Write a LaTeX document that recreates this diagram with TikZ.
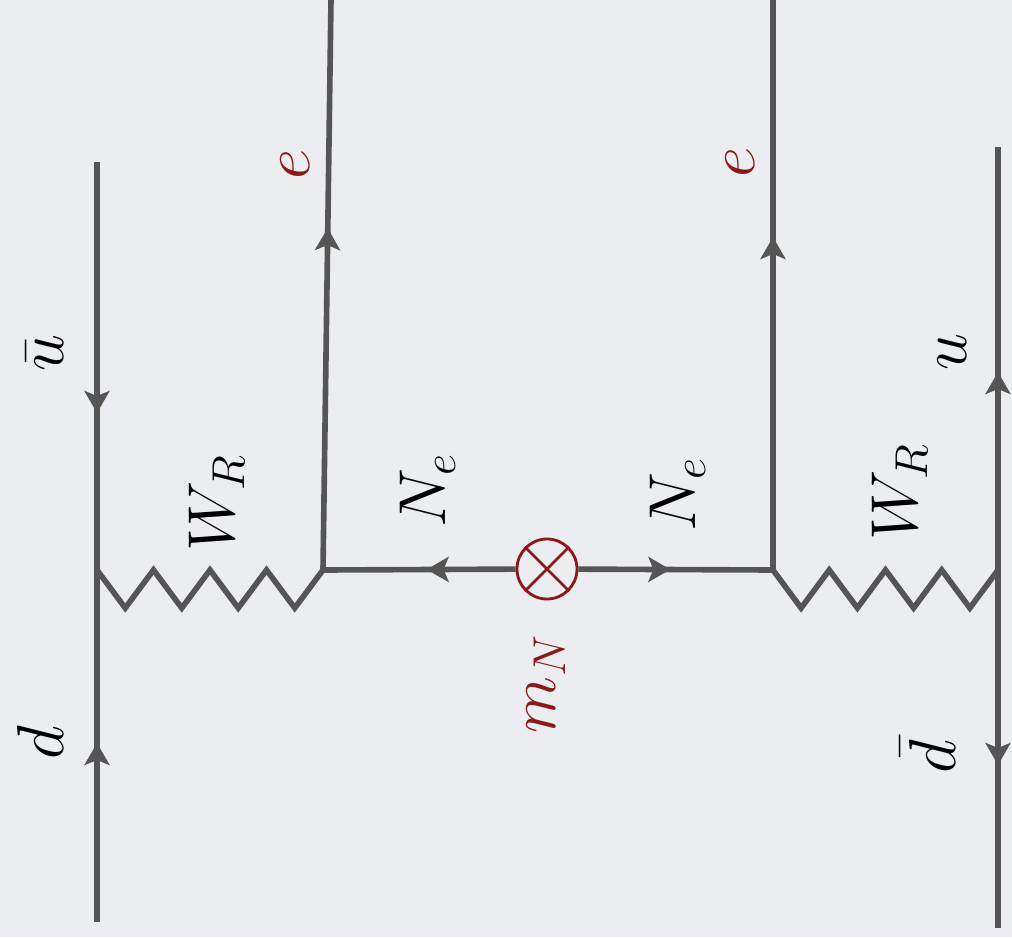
\documentclass[tikz,border=0pt]{standalone}
\usepackage{tikz}
\usetikzlibrary{arrows.meta, decorations.markings}

\definecolor{bggray}{RGB}{236,237,240}
\definecolor{linegray}{RGB}{85,85,85}
\definecolor{massred}{RGB}{140,24,24}

\tikzset{
  fermion/.style={color=linegray, line width=1.6pt, postaction={decorate},
    decoration={markings, mark=at position #1 with {\arrow{Stealth[length=2.2mm, width=2.5mm, inset=0.5mm]}}}},
  wboson/.style={color=linegray, line width=1.6pt},
  mass/.style={circle, draw=massred, line width=0.8pt, minimum size=0.6cm, inner sep=0pt},
  lbl/.style={rotate=90, inner sep=0pt, scale=0.91, font=\huge},
}

\begin{document}
\begin{tikzpicture}[x=1cm,y=1cm]
	% background
	\fill[bggray] (0,0) rectangle (10.12,9.37);
	\useasboundingbox (0,0) rectangle (10.12,9.37);

	% vertices and line ends
	\coordinate (ubar) at (0.97,7.75);
	\coordinate (d) at (0.97,0.15);
	\coordinate (vL) at (0.97,3.67);
	\coordinate (wL) at (3.23,3.67);
	\coordinate (eL) at (3.31,9.37);
	\coordinate (wR) at (7.73,3.67);
	\coordinate (eR) at (7.73,9.37);
	\coordinate (vR) at (9.98,3.67);
	\coordinate (u) at (9.98,7.90);
	\coordinate (dbar) at (9.98,0.09);
	\node[mass] (mN) at (5.47,3.68) {};

	% quarks
	\draw[fermion=2.51cm] (ubar) -- (vL);
	\draw[fermion=1.79cm] (d) -- (vL);
	\draw[fermion=1.98cm] (vR) -- (u);
	\draw[fermion=1.95cm] (vR) -- (dbar);

	% electrons
	\draw[fermion=3.42cm] (wL) -- (eL);
	\draw[fermion=3.33cm] (wR) -- (eR);

	% neutrino with mass insertion
	\draw[fermion=0.89cm] (mN) -- (wL);
	\draw[fermion=0.92cm] (mN) -- (wR);
	\draw[massred, line width=0.8pt] (mN.45) -- (mN.225) (mN.135) -- (mN.315);

	% W_R
	\draw[wboson] (vL) \foreach \i in {1,...,4}{ -- ++(0.2825,-0.38) -- ++(0.2825,0.38)};
	\draw[wboson] (wR) \foreach \i in {1,...,4}{ -- ++(0.28125,-0.38) -- ++(0.28125,0.38)};

	% labels
	\node[lbl] (lubar) at (0.45,5.84) {$\bar{u}$};
	\node[lbl] (ld) at (0.40,1.94) {$d$};
	\node[lbl] (lwL) at (2.17,4.34) {$W_R$};
	\node[lbl, text=massred] (leL) at (2.95,7.73) {$e$};
	\node[lbl] (lnL) at (4.28,4.47) {$N_e$};
	\node[lbl] (lnR) at (6.78,4.43) {$N_e$};
	\node[lbl, text=massred] (lmN) at (5.46,2.53) {$m_N$};
	\node[lbl, text=massred] (leR) at (7.40,7.75) {$e$};
	\node[lbl] (lwR) at (9.00,4.45) {$W_R$};
	\node[lbl] (lu) at (9.52,5.85) {$u$};
	\node[lbl] (ldbar) at (9.28,1.80) {$\bar{d}$};
\end{tikzpicture}
\end{document}
